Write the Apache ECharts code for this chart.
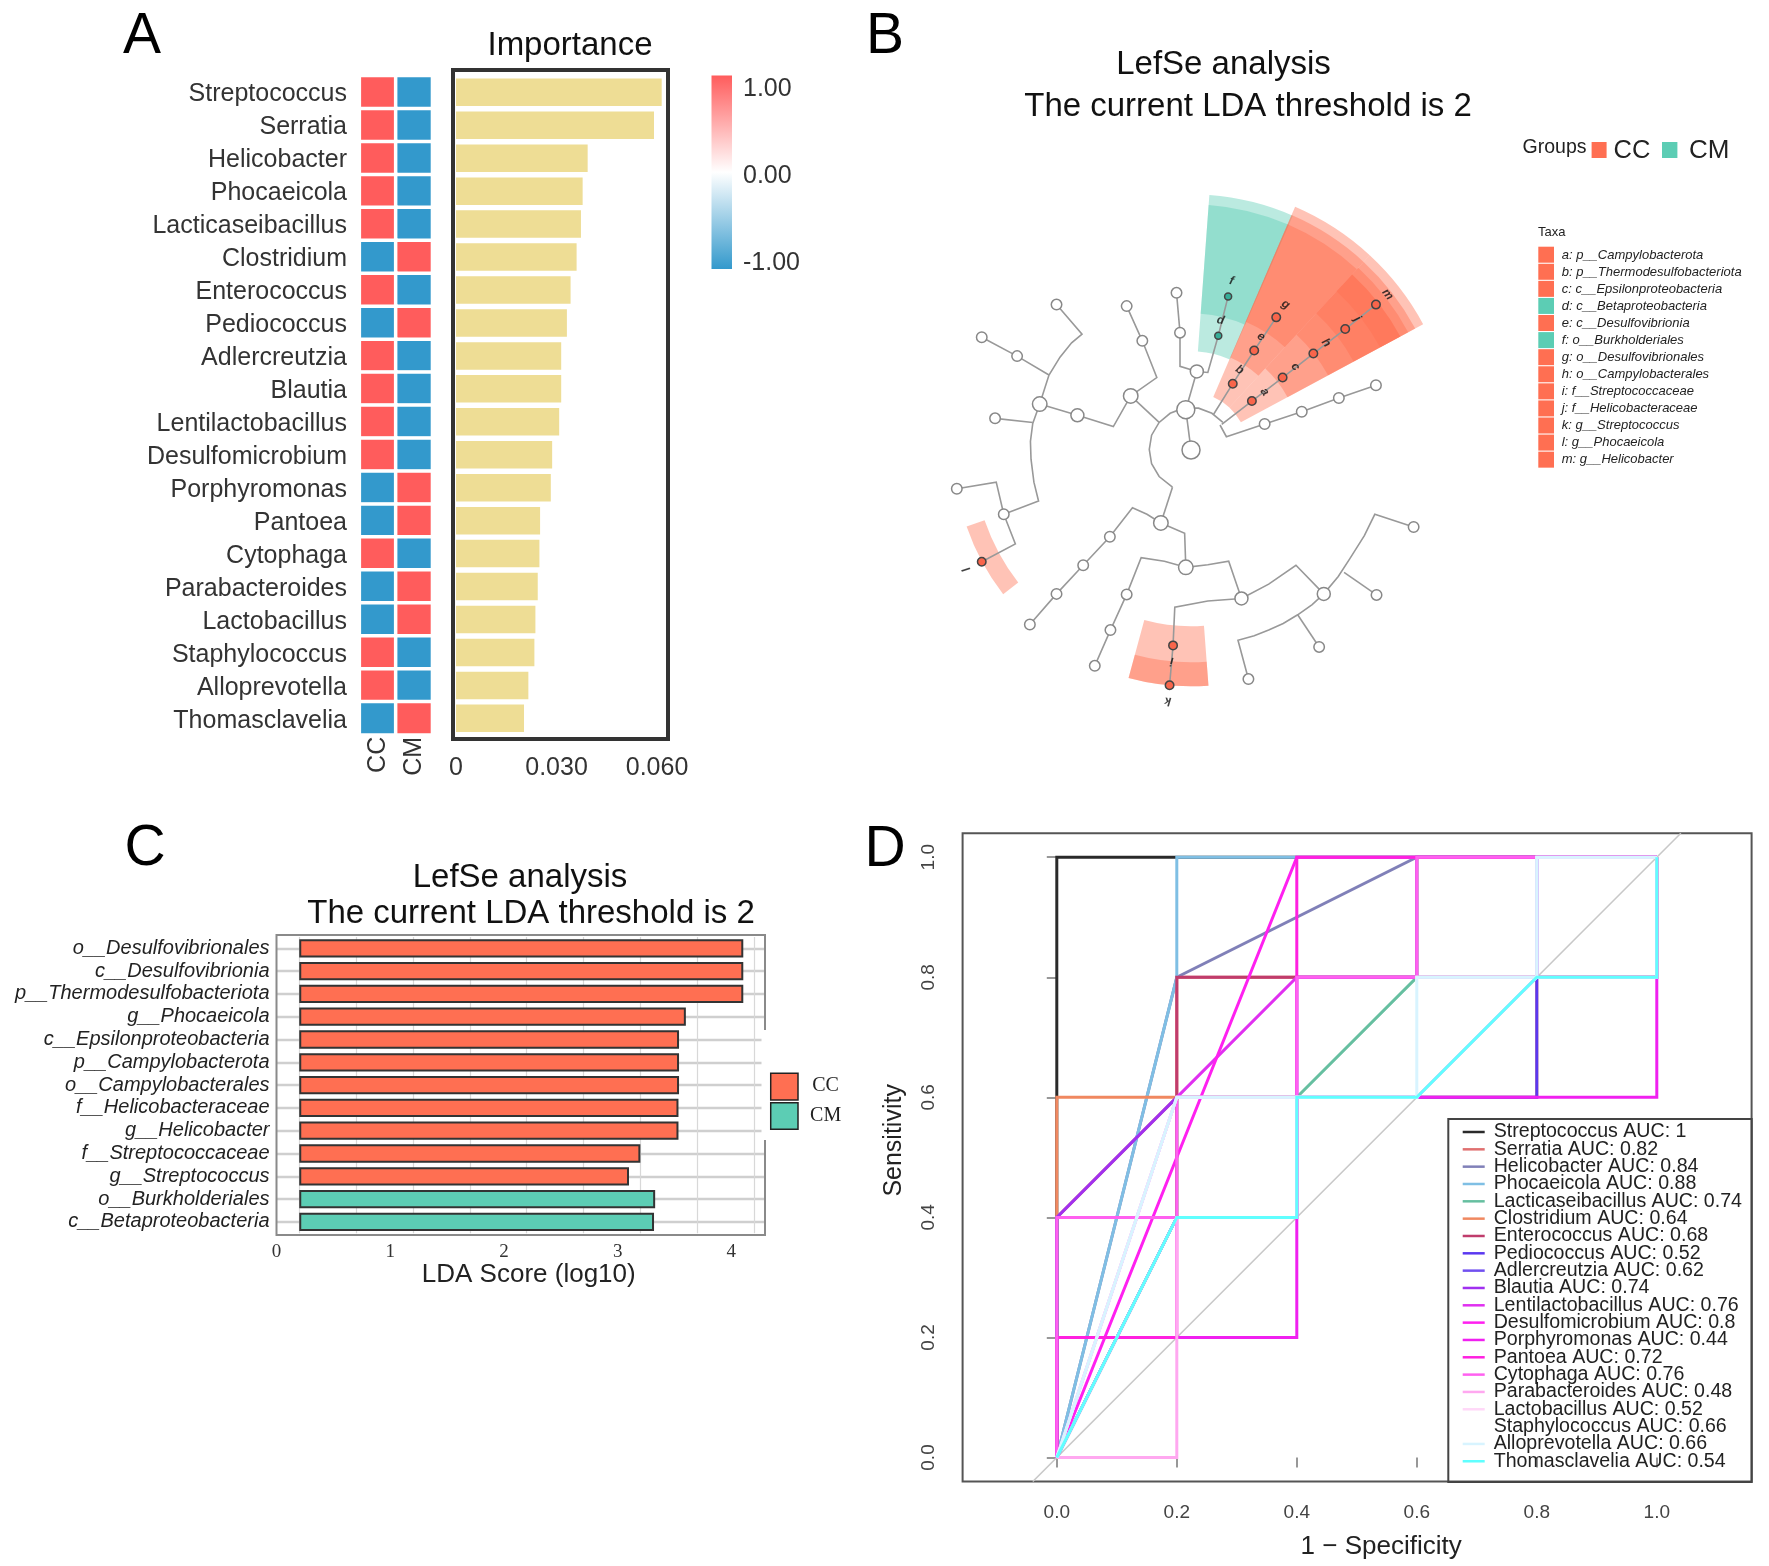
<!DOCTYPE html>
<html><head><meta charset="utf-8">
<style>html,body{margin:0;padding:0;background:#fff}#c{width:1769px;height:1566px;filter:blur(0.6px)}</style>
<script src="https://cdn.jsdelivr.net/npm/echarts@6/dist/echarts.min.js"></script>
</head><body><div id="c"></div><script>
// ---------- Panel A ----------
const genera=['Streptococcus','Serratia','Helicobacter','Phocaeicola','Lacticaseibacillus','Clostridium','Enterococcus','Pediococcus','Adlercreutzia','Blautia','Lentilactobacillus','Desulfomicrobium','Porphyromonas','Pantoea','Cytophaga','Parabacteroides','Lactobacillus','Staphylococcus','Alloprevotella','Thomasclavelia'];
const importance=[0.0614,0.0591,0.0393,0.0378,0.0373,0.0360,0.0342,0.0331,0.0314,0.0314,0.0308,0.0287,0.0283,0.0251,0.0249,0.0244,0.0237,0.0234,0.0216,0.0203];
const heatColumns=['CC','CM'];
const ccScaled=[1,1,1,1,1,-1,1,-1,1,1,1,1,-1,-1,1,-1,-1,1,1,-1];
const cmScaled=[-1,-1,-1,-1,-1,1,-1,1,-1,-1,-1,-1,1,1,-1,1,1,-1,-1,1];
const importanceTicks=[0,0.03,0.06];
const colorbarLabels=['1.00','0.00','-1.00'];
// ---------- Panel C ----------
const ldaTaxa=['o__Desulfovibrionales','c__Desulfovibrionia','p__Thermodesulfobacteriota','g__Phocaeicola','c__Epsilonproteobacteria','p__Campylobacterota','o__Campylobacterales','f__Helicobacteraceae','g__Helicobacter','f__Streptococcaceae','g__Streptococcus','o__Burkholderiales','c__Betaproteobacteria'];
const ldaScore=[4.105,4.105,4.105,3.60,3.54,3.54,3.54,3.535,3.535,3.20,3.10,3.33,3.32];
const ldaGroup=['CC','CC','CC','CC','CC','CC','CC','CC','CC','CC','CC','CM','CM'];
const ldaBase=0.2;
const ldaTicks=[0,1,2,3,4];
const ldaGridValues=[0.2,0.7,1.2,1.7,2.2,2.7,3.2,3.7,4.2];
// ---------- Panel B ----------
const taxaLegend=[['a: p__Campylobacterota','CC'],['b: p__Thermodesulfobacteriota','CC'],['c: c__Epsilonproteobacteria','CC'],['d: c__Betaproteobacteria','CM'],['e: c__Desulfovibrionia','CC'],['f: o__Burkholderiales','CM'],['g: o__Desulfovibrionales','CC'],['h: o__Campylobacterales','CC'],['i: f__Streptococcaceae','CC'],['j: f__Helicobacteraceae','CC'],['k: g__Streptococcus','CC'],['l: g__Phocaeicola','CC'],['m: g__Helicobacter','CC']];
const cladeEdges=[
 [[626,828],[607,810],[584,800],[558,800],[535,810],[516,828],[503,853],[499,881],[503,909],[516,934],[539,955]],
 [[571,882],[562,803]],[[539,955],[519,1025]],
 [[519,1025],[495,1008],[470,995],[431,1052],[385,1108],[339,1164],[293,1224]],
 [[519,1025],[560,1045],[562,1112]],
 [[562,1112],[525,1100],[485,1093],[460,1165],[432,1235],[405,1305]],
 [[562,1112],[600,1107],[636,1100],[658,1173]],
 [[658,1173],[600,1178],[543,1190],[540,1265],[534,1343]],
 [[658,1173],[705,1145],[752,1108],[800,1164]],
 [[800,1164],[825,1130],[845,1095],[870,1050],[888,1008],[955,1033]],
 [[835,1122],[891,1166]],
 [[800,1164],[780,1185],[755,1205],[730,1222],[705,1235],[680,1246],[652,1255],[670,1331]],
 [[755,1205],[792,1268]],
 [[516,828],[467,776]],[[467,776],[512,740],[487,668],[460,600]],
 [[467,776],[437,836],[375,814],[310,792]],
 [[339,597],[383,655],[365,672],[345,700],[326,735],[310,792],[298,830],[294,865],[295,900],[300,945],[308,982],[248,1008]],
 [[326,735],[271,698],[210,661]],[[298,828],[233,820]],
 [[248,1008],[235,945],[167,958]],[[248,1008],[268,1066],[210,1101]],
 [[562,803],[581,728]],[[581,728],[552,718],[552,652],[546,574]],
 [[581,728],[600,730],[618,658],[635,581]],
 [[610,812],[643,752],[680,687],[718,622]],
 [[624,832],[676,786],[729,740],[782,693],[837,645],[890,597]],
 [[621,833],[632,856],[698,831],[762,807],[826,780],[890,755]]
];
const rootNodes=[[571,882],[562,803]];
const branchNodes=[[519,1025],[562,1112],[310,792],[467,776]];
const innerNodes=[[658,1173],[800,1164],[375,814],[581,728]];
const leafNodes=[[431,1052],[385,1108],[339,1164],[293,1224],[460,1165],[432,1235],[405,1305],[955,1033],[792,1268],[891,1166],[670,1331],[271,698],[210,661],[339,597],[460,600],[487,668],[233,820],[248,1008],[167,958],[552,652],[546,574],[698,831],[762,807],[826,780],[890,755]];
const ccNodes=[[643,752],[680,687],[718,622],[676,786],[729,740],[782,693],[837,645],[890,597],[210,1101],[540,1265],[534,1343]];
const cmNodes=[[618,658],[635,581]];
const nodeLetters=[['a',698,768],['c',751,719],['h',804,672],['j',858,625],['m',910,577],['b',655,725],['e',692,660],['g',734,597],['d',622,628],['f',641,551],['l',184,1116],['i',538,1296],['k',531,1374]];
// highlighted sectors: inner radius, outer radius, from angle, to angle
const cmSectors=[[98,255,66.4,85.8],[136,245,66.4,85.8]];
const ccSectors=[[57,264,47.3,66.7],[100,255,47.3,66.7],[139,245,47.3,66.7],
 [57,264,28.3,47.3],[110,255,28.3,47.3],[156,247,28.3,47.3],[185,238,28.3,47.3],[215,238,28.3,47.3],
 [218,237,199,217.7],[177,237,254.8,274.3],[213,237,254.8,274.3]];
// ---------- Panel D ----------
const rocTicks=[0,0.2,0.4,0.6,0.8,1];
const auc=[1,0.82,0.84,0.88,0.74,0.64,0.68,0.52,0.62,0.74,0.76,0.8,0.44,0.72,0.76,0.48,0.52,0.66,0.66,0.54];
const rocStreptococcus=[[0,0],[0,1],[1,1]];
const rocSerratia=[[0,0],[0,.4],[.2,.6],[.2,.8],[.6,.8],[.6,1],[1,1]];
const rocHelicobacter=[[0,0],[.2,.8],[.6,1],[1,1]];
const rocPhocaeicola=[[0,0],[.2,.8],[.2,1],[1,1]];
const rocLacticaseibacillus=[[0,0],[0,.4],[.2,.4],[.2,.6],[.4,.6],[.6,.8],[.6,1],[1,1]];
const rocClostridium=[[0,0],[0,.6],[.8,.6],[.8,.8],[1,.8],[1,1]];
const rocEnterococcus=[[0,0],[.2,.4],[.2,.8],[.8,.8],[1,.8],[1,1]];
const rocPediococcus=[[0,0],[.2,.4],[.4,.4],[.4,.6],[.8,.6],[.8,.8],[1,.8],[1,1]];
const rocAdlercreutzia=[[0,0],[0,.4],[.4,.4],[.4,.6],[.6,.6],[.8,.8],[.8,1],[1,1]];
const rocBlautia=[[0,0],[0,.4],[.2,.6],[.4,.6],[.4,.8],[.8,.8],[.8,1],[1,1]];
const rocLentilactobacillus=[[0,0],[.2,.6],[.4,.8],[.6,.8],[.6,1],[1,1]];
const rocDesulfomicrobium=[[0,0],[.4,1],[1,1]];
const rocPorphyromonas=[[0,0],[0,.2],[.4,.2],[.4,.6],[1,.6],[1,1]];
const rocPantoea=[[0,0],[0,.2],[.2,.2],[.2,.4],[.4,.4],[.4,1],[1,1]];
const rocCytophaga=[[0,0],[0,.4],[.2,.4],[.2,.6],[.4,.6],[.4,.8],[.6,.8],[.6,1],[1,1]];
const rocParabacteroides=[[0,0],[.2,0],[.2,.4],[.4,.4],[.4,.6],[.6,.6],[.8,.8],[1,.8],[1,1]];
const rocLactobacillus=[[0,0],[.2,.4],[.4,.4],[.4,.6],[.6,.6],[.8,.8],[1,.8],[1,1]];
const rocStaphylococcus=[[0,0],[.2,.6],[.6,.6],[.6,.8],[.8,.8],[.8,1],[1,1]];
const rocAlloprevotella=[[0,0],[.2,.6],[.6,.6],[.6,.8],[.8,.8],[.8,1],[1,1]];
const rocThomasclavelia=[[0,0],[.2,.4],[.4,.4],[.4,.6],[.6,.6],[.8,.8],[1,.8],[1,1]];
const rocPaths=[rocStreptococcus,rocSerratia,rocHelicobacter,rocPhocaeicola,rocLacticaseibacillus,rocClostridium,rocEnterococcus,rocPediococcus,rocAdlercreutzia,rocBlautia,rocLentilactobacillus,rocDesulfomicrobium,rocPorphyromonas,rocPantoea,rocCytophaga,rocParabacteroides,rocLactobacillus,rocStaphylococcus,rocAlloprevotella,rocThomasclavelia];

// ---------- styles ----------
const rocColors=['#2a2a2a','#E07070','#8080B8','#7FBFE4','#66BFA0','#F08860','#C03C6C','#5A38F0','#7050F0','#A030F0','#E030F0','#FF20F0','#F020F0','#FF20E0','#FF60F0','#FFA8F0','#FFD8F8','#FFFFFF','#D8F4FF','#60FFFF'];
const SANS='"Liberation Sans",Arial,sans-serif', SERIF='"Liberation Serif",serif';
const CC='#FF6F52', CM='#5CCDB4';
const chart=echarts.init(document.getElementById('c'));
const txt=(text,x,y,size,extra={})=>({type:'text',z:20,silent:true,style:Object.assign({x,y,text,font:`${size}px ${SANS}`,fill:'#111',textAlign:'center',textVerticalAlign:'middle'},extra)});
const rectG=(x,y,w,h,style,z=5)=>({type:'rect',z,silent:true,shape:{x,y,width:w,height:h},style});
const graphic=[
 txt('A',142,37,57,{fill:'#000'}),txt('B',885,37,57,{fill:'#000'}),txt('C',145,849,57,{fill:'#000'}),txt('D',885,850,57,{fill:'#000'}),
 txt('Importance',570,46,33),
 rectG(453,70,215,669,{fill:'none',stroke:'#333',lineWidth:4}),
 rectG(711.5,75.5,20.5,193.5,{fill:{type:'linear',x:0,y:0,x2:0,y2:1,colorStops:[{offset:0,color:'#FF5C5C'},{offset:.5,color:'#FFFFFF'},{offset:1,color:'#3399CC'}]}}),
 txt(colorbarLabels[0],743,89,25,{textAlign:'left',fill:'#333'}),
 txt(colorbarLabels[1],743,176.5,25,{textAlign:'left',fill:'#333'}),
 txt(colorbarLabels[2],743,263,25,{textAlign:'left',fill:'#333'}),
 txt('LefSe analysis',1223.5,65,33),txt('The current LDA threshold is 2',1248,107,33),
 txt('Groups',1522.6,148,19.5,{textAlign:'left',fill:'#222'}),
 rectG(1591.6,142,15,16,{fill:CC}),txt('CC',1613.6,150.5,25.5,{textAlign:'left',fill:'#222'}),
 rectG(1662,142,15.4,16,{fill:CM}),txt('CM',1689,150.5,26,{textAlign:'left',fill:'#222'}),
 txt('Taxa',1538,232.7,13,{textAlign:'left',fill:'#222'}),
 txt('LefSe analysis',520,877.5,33),txt('The current LDA threshold is 2',531,913.5,33),
 rectG(276.5,935,488.5,300,{fill:'none',stroke:'#8a8a8a',lineWidth:2},1),
 rectG(761.5,1030,8,110,{fill:'#fff'},6),
 rectG(770.7,1073.3,27.3,26.7,{fill:CC,stroke:'#222',lineWidth:1.5}),
 rectG(770.7,1102.7,27.3,26.6,{fill:CM,stroke:'#222',lineWidth:1.5}),
 txt('CC',825.6,1085.7,20,{font:`20px ${SERIF}`,fill:'#222'}),
 txt('CM',825.6,1115.7,20,{font:`20px ${SERIF}`,fill:'#222'}),
 rectG(1448.3,1119,303.4,363,{fill:'none',stroke:'#444',lineWidth:2},6)
];
taxaLegend.forEach((t,i)=>{
 const y=246.7+i*17.08;
 graphic.push(rectG(1538.3,y,15.7,16,{fill:t[1]==='CC'?CC:CM}));
 graphic.push(txt(t[0],1561.7,y+8.2,13,{textAlign:'left',fill:'#222',font:`italic 13px ${SANS}`}));
});
const sectorSeries=(data,color)=>({type:'custom',coordinateSystem:'polar',polarIndex:0,z:1,silent:true,data,
 encode:{radius:0,angle:2},
 renderItem(params,api){
  const cs=params.coordSys, k=cs.r/264;
  return {type:'sector',shape:{cx:cs.cx,cy:cs.cy,r0:api.value(0)*k,r:api.value(1)*k,startAngle:-api.value(3)*Math.PI/180,endAngle:-api.value(2)*Math.PI/180,clockwise:true},style:{fill:color,opacity:.42}};
 }});
const nodeSeries=(data,size,color,border='#888')=>({type:'scatter',xAxisIndex:2,yAxisIndex:2,z:3,silent:true,symbolSize:size,data,itemStyle:{color,borderColor:border,borderWidth:1.5,opacity:1}});
const letterRot=(x,y)=>{const rx=860+x/1.725-1190.7, ry=449.3-y/1.96;return Math.round(Math.atan2(ry,rx)*180/Math.PI-90);};
const series=[
 {type:'heatmap',xAxisIndex:0,yAxisIndex:0,silent:true,data:genera.flatMap((g,i)=>[[0,i,ccScaled[i]],[1,i,cmScaled[i]]]),itemStyle:{borderColor:'#fff',borderWidth:3.5}},
 {type:'bar',name:'Importance',xAxisIndex:1,yAxisIndex:1,silent:true,barWidth:27.5,data:importance,itemStyle:{color:'#EEDD95'}},
 sectorSeries(cmSectors,CM),sectorSeries(ccSectors,CC),
 {type:'lines',coordinateSystem:'cartesian2d',xAxisIndex:2,yAxisIndex:2,polyline:true,z:2,silent:true,lineStyle:{color:'#999',width:1.6,opacity:1},data:cladeEdges.map(c=>({coords:c}))},
 nodeSeries(rootNodes,18,'#fff'),nodeSeries(branchNodes,14.5,'#fff'),nodeSeries(innerNodes,13,'#fff'),nodeSeries(leafNodes,10.5,'#fff'),
 nodeSeries(ccNodes,8.5,'#F9654B','#444'),nodeSeries(cmNodes,7,'#35AE98','#444'),
 {type:'scatter',xAxisIndex:2,yAxisIndex:2,z:4,silent:true,symbolSize:2,itemStyle:{color:'rgba(0,0,0,0)'},
  data:nodeLetters.map(l=>({value:[l[1],l[2]],label:{show:true,position:'inside',formatter:l[0],rotate:letterRot(l[1],l[2]),fontSize:12,fontWeight:'bold',fontStyle:'italic',color:'#111',fontFamily:SANS}}))},
 {type:'bar',name:'base',xAxisIndex:3,yAxisIndex:3,stack:'lda',barWidth:18.3,silent:true,z:2,itemStyle:{color:'rgba(0,0,0,0)'},data:ldaTaxa.map(()=>ldaBase),
  markLine:{silent:true,z:0,symbol:'none',animation:false,label:{show:false},lineStyle:{color:'#cfcfcf',width:2.4,type:'solid'},data:ldaTaxa.map(t=>({yAxis:t})).concat(ldaGridValues.map(v=>({xAxis:v,lineStyle:{color:'#d8d8d8',width:1.2,type:'solid'}})))}},
 {type:'bar',name:'CC',xAxisIndex:3,yAxisIndex:3,stack:'lda',barWidth:18.3,silent:true,z:3,itemStyle:{color:CC,borderColor:'#333',borderWidth:2},data:ldaScore.map((v,i)=>ldaGroup[i]==='CC'?+(v-ldaBase).toFixed(3):null)},
 {type:'bar',name:'CM',xAxisIndex:3,yAxisIndex:3,stack:'lda',barWidth:18.3,silent:true,z:3,itemStyle:{color:CM,borderColor:'#333',borderWidth:2},data:ldaScore.map((v,i)=>ldaGroup[i]==='CM'?+(v-ldaBase).toFixed(3):null)},
 {type:'line',name:'reference',xAxisIndex:4,yAxisIndex:4,silent:true,symbol:'none',z:1,lineStyle:{color:'#c8c8c8',width:1.6},data:[[-0.04,-0.04],[1.04,1.04]]},
 ...genera.map((g,i)=>({type:'line',name:g,xAxisIndex:4,yAxisIndex:4,silent:true,symbol:'none',z:2,color:rocColors[i],lineStyle:{color:rocColors[i],width:3,join:'miter'},itemStyle:{color:rocColors[i]},data:rocPaths[i]}))
];
const NB={outerBoundsMode:'none'};
chart.setOption({
 animation:false,backgroundColor:'#fff',graphic,
 visualMap:{show:false,min:-1,max:1,seriesIndex:0,dimension:2,inRange:{color:['#3399CC','#FFFFFF','#FF5C5C']}},
 polar:{center:[1190.7,449.3],radius:264},
 angleAxis:{type:'value',min:0,max:360,startAngle:0,clockwise:false,show:false},
 radiusAxis:{type:'value',min:0,max:264,show:false},
 grid:[
  {...NB,left:359.6,top:75.8,width:72.6,height:659},
  {...NB,left:456,top:75.8,width:212,height:659},
  {...NB,left:860,top:0,width:909,height:800},
  {...NB,left:276.5,top:936.9,width:488.5,height:296.4},
  {...NB,left:962.6,top:833.2,width:789,height:648.3,show:true,borderColor:'#555',borderWidth:2},
  {...NB,left:359.6,top:78.1,width:72.6,height:659}
 ],
 xAxis:[
  {gridIndex:0,type:'category',data:heatColumns,axisLine:{show:false},axisTick:{show:false},axisLabel:{rotate:90,fontSize:25,margin:2,color:'#333',fontFamily:SANS}},
  {gridIndex:1,type:'value',min:0,max:0.06328,splitLine:{show:false},axisLine:{show:false},axisTick:{show:false},axisLabel:{customValues:importanceTicks,fontSize:25,margin:21,color:'#333',fontFamily:SANS,formatter:v=>v===0?'0':v.toFixed(3)}},
  {gridIndex:2,type:'value',min:0,max:1568,show:false},
  {gridIndex:3,type:'value',min:0,max:4.296,name:'LDA Score (log10)',nameLocation:'middle',nameGap:25,nameTextStyle:{fontSize:26,color:'#222',fontFamily:SANS,padding:[0,0,0,16]},splitLine:{show:false},axisLine:{show:false},axisTick:{customValues:ldaTicks,length:6,lineStyle:{color:'#777',width:1.5}},axisLabel:{customValues:ldaTicks,fontSize:19,margin:9,color:'#333',fontFamily:SERIF}},
  {gridIndex:4,type:'value',min:-0.157,max:1.158,name:'1 \u2212 Specificity',nameLocation:'middle',nameGap:52,nameTextStyle:{fontSize:26,color:'#222',fontFamily:SANS,padding:[0,0,0,48]},splitLine:{show:false},axisLine:{show:false},axisTick:{customValues:rocTicks,length:10,lineStyle:{color:'#777',width:1.5}},axisLabel:{customValues:rocTicks,fontSize:19,margin:22,color:'#444',fontFamily:SANS,formatter:v=>v.toFixed(1)}},
  {gridIndex:5,type:'category',data:heatColumns,show:false}
 ],
 yAxis:[
  {gridIndex:0,type:'category',inverse:true,data:genera,show:false},
  {gridIndex:1,type:'category',inverse:true,data:genera,show:false},
  {gridIndex:2,type:'value',inverse:true,min:0,max:1568,show:false},
  {gridIndex:3,type:'category',inverse:true,data:ldaTaxa,axisLine:{show:false},axisTick:{length:5,lineStyle:{color:'#888',width:1.5}},axisLabel:{interval:0,fontSize:20,fontStyle:'italic',margin:7,color:'#222',fontFamily:SANS}},
  {gridIndex:4,type:'value',min:-0.04,max:1.04,name:'Sensitivity',nameLocation:'middle',nameGap:56,nameTextStyle:{fontSize:25,color:'#222',fontFamily:SANS,padding:[0,0,0,34]},splitLine:{show:false},axisLine:{show:false},axisTick:{customValues:rocTicks,length:10,lineStyle:{color:'#777',width:1.5}},axisLabel:{customValues:rocTicks,rotate:90,fontSize:19,margin:24,color:'#444',fontFamily:SANS,formatter:v=>v.toFixed(1)}},
  {gridIndex:5,type:'category',inverse:true,data:genera,axisLine:{show:false},axisTick:{show:false},axisLabel:{interval:0,fontSize:25,margin:12.6,color:'#333',fontFamily:SANS}}
 ],
 legend:{data:genera,orient:'vertical',left:1462.7,top:1122,padding:0,itemWidth:22,itemHeight:2.5,itemGap:-2.67,icon:'rect',selectedMode:false,
  formatter:n=>`${n} AUC: ${auc[genera.indexOf(n)]}`,
  textStyle:{fontSize:19.6,color:'#222',fontFamily:SANS,padding:[0,0,0,4]}},
 series
});
</script></body></html>
